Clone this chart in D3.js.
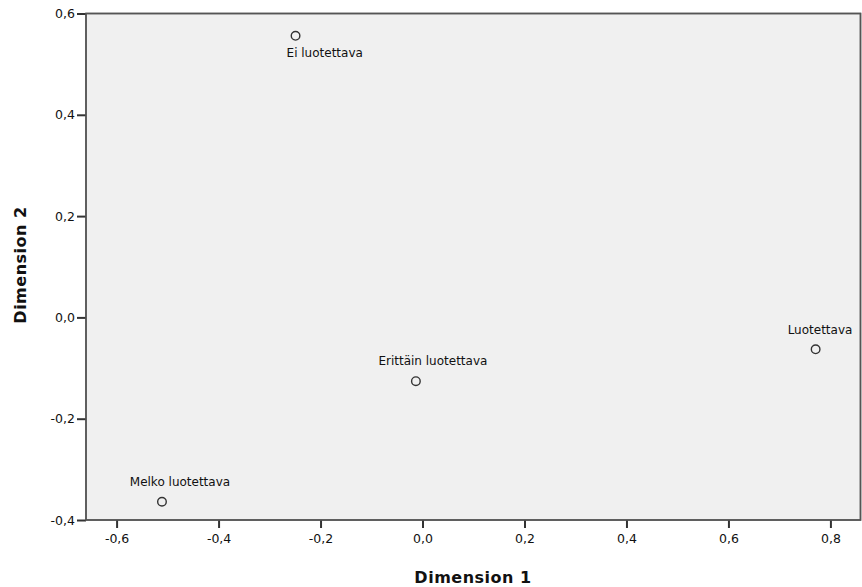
<!DOCTYPE html>
<html>
<head>
<meta charset="utf-8">
<script src="https://cdn.jsdelivr.net/npm/d3@7"></script>
<style>
  body { margin: 0; background: #fff; }
  svg text { font-family: "DejaVu Sans", "Liberation Sans", Arial, sans-serif; fill: #111; }
  .tick text { font-size: 12.5px; }
  .axisTitle { font-size: 16px; font-weight: bold; letter-spacing: 0.5px; }
  .ptLabel { font-size: 12px; }
</style>
</head>
<body>
<div id="chart"></div>
<script>
// data
var categories = ["Ei luotettava", "Luotettava", "Melko luotettava", "Erittäin luotettava"];
var dim1 = [-0.249, 0.771, -0.511, -0.013];
var dim2 = [0.556, -0.063, -0.364, -0.126];
var xTicks = [-0.6, -0.4, -0.2, 0.0, 0.2, 0.4, 0.6, 0.8];
var yTicks = [-0.4, -0.2, 0.0, 0.2, 0.4, 0.6];

// label placement (layout only)
var labelPlace = {
    "Ei luotettava": { dx: -9, dy: 21, anchor: "start" },
    "Luotettava": { dx: -28, dy: -15, anchor: "start" },
    "Melko luotettava": { dx: 18, dy: -16, anchor: "middle" },
    "Erittäin luotettava": { dx: 17, dy: -16, anchor: "middle" }
};

var width = 862, height = 587;
var margin = { top: 13.5, right: 1.5, bottom: 67, left: 86 };

var svg = d3.select("#chart").append("svg").attr("width", width).attr("height", height);

var x = d3.scaleLinear().domain([-0.66, 0.859]).range([margin.left, width - margin.right]);
var y = d3.scaleLinear().domain([-0.4, 0.6]).range([height - margin.bottom, margin.top]);

var fmt = function (d) { return d3.format(".1f")(d).replace(".", ",").replace("−", "-"); };

var defs = svg.append("defs");
defs.append("clipPath").attr("id", "plotClip").append("rect")
    .attr("x", margin.left).attr("y", margin.top)
    .attr("width", x.range()[1] - margin.left).attr("height", y.range()[0] - margin.top);

svg.append("rect").attr("class", "plotBg")
    .attr("x", margin.left).attr("y", margin.top)
    .attr("width", x.range()[1] - margin.left).attr("height", y.range()[0] - margin.top)
    .style("fill", "#f0f0f0").style("stroke", "#555").style("stroke-width", 1.5);

var xAxis = d3.axisBottom(x).tickValues(xTicks).tickSize(8).tickSizeOuter(0).tickPadding(6).tickFormat(fmt);
var yAxis = d3.axisLeft(y).tickValues(yTicks).tickSize(9).tickSizeOuter(0).tickPadding(2).tickFormat(fmt);

var gx = svg.append("g").attr("class", "axis xAxis").attr("transform", `translate(0, ${y.range()[0]})`).call(xAxis);
var gy = svg.append("g").attr("class", "axis yAxis").attr("transform", `translate(${margin.left}, 0)`).call(yAxis);
svg.selectAll(".axis .domain").remove();
svg.selectAll(".axis .tick line").style("stroke", "#333").style("stroke-width", 2);
svg.selectAll(".axis .tick text").style("fill", "#111");

var pts = categories.map(function (c, i) { return { name: c, x: dim1[i], y: dim2[i] }; });

var g = svg.append("g").attr("clip-path", "url(#plotClip)");

g.selectAll("circle.pt").data(pts).enter().append("circle").attr("class", "pt")
    .attr("cx", d => x(d.x)).attr("cy", d => y(d.y)).attr("r", 4.3)
    .style("fill", "none").style("stroke", "#333").style("stroke-width", 1.4);

g.selectAll("text.ptLabel").data(pts).enter().append("text").attr("class", "ptLabel")
    .attr("x", d => x(d.x) + labelPlace[d.name].dx)
    .attr("y", d => y(d.y) + labelPlace[d.name].dy)
    .style("text-anchor", d => labelPlace[d.name].anchor)
    .text(d => d.name);

// redraw frame on top so clipped text meets the border
svg.append("rect")
    .attr("x", margin.left).attr("y", margin.top)
    .attr("width", x.range()[1] - margin.left).attr("height", y.range()[0] - margin.top)
    .style("fill", "none").style("stroke", "#555").style("stroke-width", 1.5);

svg.append("text").attr("class", "axisTitle")
    .attr("x", 473).attr("y", 583).style("text-anchor", "middle").text("Dimension 1");

svg.append("text").attr("class", "axisTitle")
    .attr("transform", "translate(26, 265) rotate(-90)").style("text-anchor", "middle").text("Dimension 2");
</script>
</body>
</html>
